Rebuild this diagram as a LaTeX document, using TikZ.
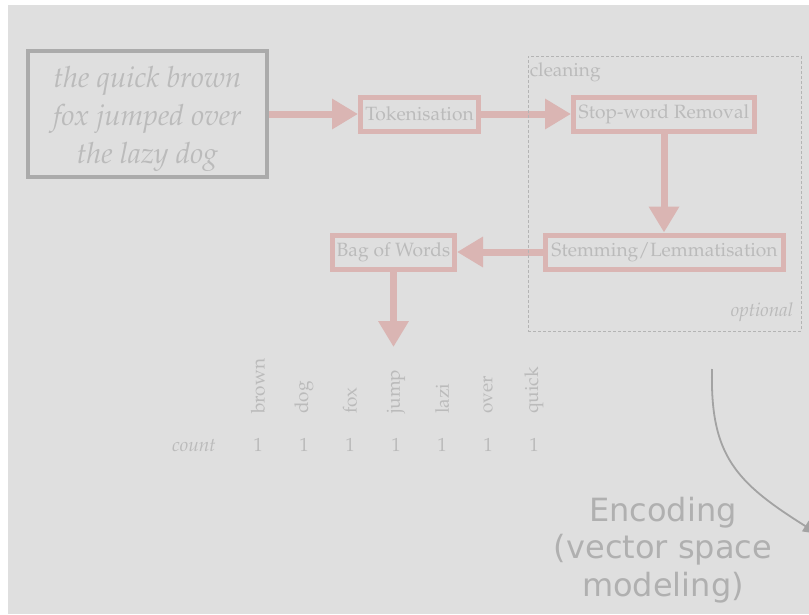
\documentclass[tikz,border=0pt]{standalone}
\usepackage[T1]{fontenc}
\usepackage{fontspec}
\usetikzlibrary{positioning, arrows.meta}
\newfontfamily\encfont{DejaVu Sans}
\newcommand{\palfont}{\fontencoding{T1}\fontfamily{ppl}\selectfont}
\definecolor{colorBg}{HTML}{DFDFDF}
\definecolor{colorPink}{HTML}{DAB5B3}
\definecolor{colorText}{HTML}{BBBBBB}
\definecolor{colorInput}{HTML}{ABABAB}
\definecolor{colorDash}{HTML}{B4B4B4}
\definecolor{colorCurve}{HTML}{A3A3A3}
\definecolor{colorEnc}{HTML}{B0B0B0}

\begin{document}
\begin{tikzpicture}[
    x=1pt, y=-1pt,
    inbox/.style={draw=colorInput, line width=4pt, minimum width=239pt, minimum height=126pt},
    intext/.style={align=center, text=colorText, font=\palfont\itshape\fontsize{29.2}{38}\selectfont},
    stepbox/.style={draw=colorPink, line width=5pt, minimum height=34pt, inner sep=2pt,
                    text=colorText, font=\palfont\fontsize{19.2}{22}\selectfont},
    flow/.style={-{Triangle[length=26pt, width=29pt]}, line width=7pt, draw=colorPink},
    cleanbox/.style={draw=colorDash, line width=0.8pt, dash pattern=on 3pt off 2pt,
                     minimum width=273pt, minimum height=275pt},
    smalltext/.style={text=colorText, inner sep=2pt, font=\palfont\fontsize{19}{22}\selectfont},
    tabletext/.style={text=colorText, inner sep=0pt, font=\palfont\fontsize{19}{22}\selectfont},
    curve/.style={-{Triangle[length=15pt, width=12pt]}, line width=1.8pt, draw=colorCurve},
    enclabel/.style={align=center, text=colorEnc, font=\encfont\fontsize{32}{37.5}\selectfont}
]
\useasboundingbox[fill=white] (0,0) rectangle (809,614);
\clip (0,0) rectangle (809,614);
\fill[colorBg] (8,5) rectangle (809,614);

% Input text
\node[inbox] (Input) at (147.5,114) {};
\node[intext] (InputText) at (147.5,119) {the quick brown\\fox jumped over\\the lazy dog};

% Pipeline steps
\node[stepbox, minimum width=118pt] (Tok) at (419.5,114) {Tokenisation};
\node[stepbox, minimum width=181pt] (Stop) at (664,114) {Stop-word Removal};
\node[stepbox, minimum width=238pt] (Stem) at (664.5,252) {Stemming/Lemmatisation};
\node[stepbox, minimum width=122pt] (Bag) at (393.5,252) {Bag of Words};
\coordinate (TableTop) at (393.5,347);

% Arrows
\draw[flow] (Input) -- (Tok);
\draw[flow] (Tok) -- (Stop);
\draw[flow] (Stop.south) -- (Stop.south |- Stem.north);
\draw[flow] (Stem) -- (Bag);
\draw[flow] (Bag.south) -- (TableTop);

% Optional cleaning group
\node[cleanbox] (Cleaning) at (664.5,193.5) {};
\node[smalltext, anchor=north west, yshift=-5pt] (CleanLabel) at (Cleaning.north west) {cleaning};
\node[smalltext, anchor=south east, xshift=-6pt, yshift=7pt, font=\palfont\itshape\fontsize{19}{22}\selectfont] (OptLabel) at (Cleaning.south east) {optional};

% Bag of words table
\node[tabletext, font=\palfont\itshape\fontsize{19}{22}\selectfont] (Count) at (194,445) {count};
\foreach \word [count=\i] in {brown,dog,fox,jump,lazi,over,quick} {
    \node[tabletext, rotate=90, anchor=west] (w\i) at (212+46*\i,414) {\word};
    \node[tabletext] (c\i) at (212+46*\i,445) {1};
}

% Encoding
\node[enclabel] (Encoding) at (663,550) {Encoding\\(vector space\\modeling)};
\coordinate (CurveStart) at (712,369);
\coordinate (CurveEnd) at (818,534);
\draw[curve] (CurveStart) .. controls (710,455) and (735,482) .. (CurveEnd);

\end{tikzpicture}
\end{document}
